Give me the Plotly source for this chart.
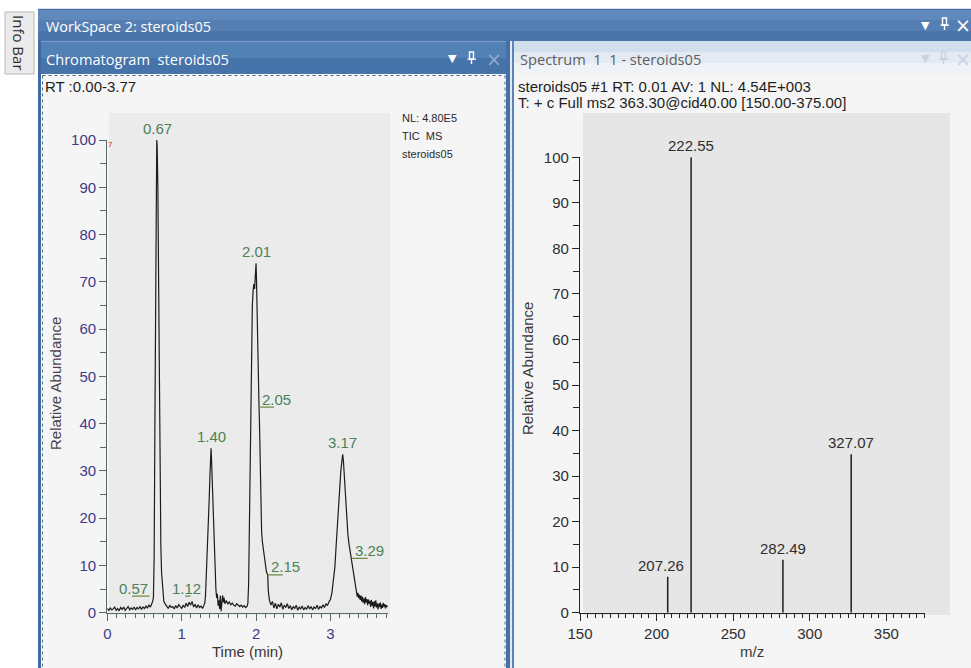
import plotly.graph_objects as go

W, H = 971, 668

# ---------------- data: chromatogram (TIC, relative abundance vs time) ----------------
rt_min = [
    0.00, 0.02, 0.04, 0.06, 0.08, 0.10, 0.12, 0.14, 0.16, 0.18, 0.20, 0.22, 0.24, 0.26, 0.28, 0.30,
    0.32, 0.34, 0.36, 0.38, 0.40, 0.42, 0.44, 0.46, 0.48, 0.50, 0.52, 0.54, 0.56, 0.58, 0.60, 0.61,
    0.62, 0.63, 0.64, 0.65, 0.66, 0.665, 0.67, 0.68, 0.69, 0.70, 0.705, 0.71, 0.72, 0.73, 0.74, 0.75, 0.76, 0.78,
    0.80, 0.82, 0.84, 0.86, 0.88, 0.90, 0.92, 0.94, 0.96, 0.98, 1.00, 1.02, 1.04, 1.06, 1.08, 1.10,
    1.12, 1.14, 1.16, 1.18, 1.20, 1.22, 1.24, 1.26, 1.28, 1.30,
    1.31, 1.32, 1.33, 1.34, 1.35, 1.36, 1.37, 1.38, 1.39, 1.395, 1.40, 1.41, 1.42, 1.43, 1.44, 1.45, 1.46, 1.47,
    1.48, 1.49, 1.50, 1.51, 1.52, 1.53, 1.54, 1.55, 1.56, 1.57, 1.58, 1.60, 1.62, 1.64, 1.66, 1.68,
    1.70, 1.72, 1.74, 1.76, 1.78, 1.80, 1.82, 1.84, 1.86, 1.88, 1.89,
    1.90, 1.91, 1.92, 1.93, 1.94, 1.95, 1.96, 1.97, 1.98, 1.99, 2.00, 2.005, 2.01, 2.02, 2.03, 2.04,
    2.045, 2.05, 2.055, 2.065, 2.075, 2.085, 2.10, 2.12, 2.14, 2.157, 2.165, 2.18,
    2.20, 2.22, 2.24, 2.26, 2.28, 2.30, 2.32, 2.34, 2.36, 2.38, 2.40, 2.42, 2.44, 2.46, 2.48, 2.50,
    2.52, 2.54, 2.56, 2.58, 2.60, 2.62, 2.64, 2.66, 2.68, 2.70, 2.72, 2.74, 2.76, 2.78, 2.80, 2.82,
    2.84, 2.86, 2.88, 2.90, 2.92, 2.94, 2.96, 2.98,
    3.00, 3.02, 3.04, 3.06, 3.08, 3.10, 3.11, 3.12, 3.13, 3.14, 3.15, 3.165, 3.175, 3.19, 3.20, 3.21,
    3.22, 3.235, 3.25, 3.27, 3.286, 3.30, 3.32, 3.34, 3.35,
    3.36, 3.37, 3.38, 3.39, 3.40, 3.41, 3.42, 3.43, 3.44, 3.45, 3.46, 3.47, 3.48, 3.49, 3.50, 3.51,
    3.52, 3.53, 3.54, 3.55, 3.56, 3.57, 3.58, 3.59, 3.60, 3.61, 3.62, 3.63, 3.64, 3.65, 3.66, 3.67,
    3.68, 3.69, 3.70, 3.71, 3.72, 3.73, 3.74, 3.75, 3.76, 3.77,
]
rel_abund = [
    0.9, 0.5, 1.0, 0.6, 0.8, 1.2, 0.5, 0.9, 0.4, 1.1, 0.7, 1.2, 0.5, 0.9, 1.3, 0.6,
    1.0, 0.7, 1.2, 0.6, 1.1, 0.8, 1.3, 0.7, 1.2, 0.9, 1.4, 1.0, 1.6, 1.2, 1.9, 2.4,
    3.2, 12, 40, 75, 95, 100, 99, 90, 70, 50, 38, 25, 14, 8.4, 5.5, 3.4, 2.4, 1.8,
    1.4, 0.9, 1.6, 1.1, 1.3, 0.8, 1.5, 1.0, 1.7, 1.2, 0.9, 1.6, 1.1, 2.0, 1.3, 2.2,
    1.6, 2.4, 1.2, 1.8, 1.0, 1.7, 1.1, 1.4, 0.9, 1.6,
    2.0, 3.5, 7, 11, 15, 19, 24, 29, 34, 34.8, 33, 28, 23, 17, 12, 7.5, 5.0, 3.1,
    4.0, 1.5, 2.6, 0.8, 3.6, 0.3, 2.9, 3.7, 2.2, 3.2, 1.9, 2.6, 1.8, 2.3, 1.7, 2.0,
    1.6, 1.4, 1.9, 1.5, 1.3, 1.6, 1.2, 1.5, 1.1, 1.4, 2.0,
    6, 18, 38, 52, 60, 65, 68, 69.5, 68.5, 70.5, 73.9, 71, 66, 56, 47, 43.5,
    41, 36, 30.5, 28, 17, 15, 13, 10.5, 8.6, 8.0, 4.5, 2.6,
    1.6, 2.4, 1.0, 2.0, 0.8, 1.8, 1.2, 2.1, 0.7, 1.6, 1.1, 1.9, 0.9, 1.5, 0.6, 1.3,
    0.9, 1.6, 0.5, 1.2, 0.8, 1.4, 0.6, 1.1, 0.7, 1.5, 0.8, 1.3, 0.6, 1.2, 0.9, 1.6,
    0.7, 1.3, 1.0, 1.7, 1.1, 1.9, 1.5, 2.3,
    2.8, 4.2, 6.5, 9.7, 15, 20.5, 23.5, 26.5, 28.8, 30, 31.5, 33.5, 32, 28, 25, 22,
    19, 16.5, 14.5, 12.5, 11.5, 9.5, 7.5, 5.5, 4.8,
    3.4, 4.2, 3.1, 3.8, 2.7, 3.6, 2.4, 3.4, 2.1, 3.0, 1.8, 3.3, 2.2, 2.9, 1.6, 2.8,
    1.9, 2.5, 1.2, 2.7, 1.5, 2.3, 0.9, 2.4, 1.3, 2.6, 1.1, 2.0, 0.7, 1.9, 1.2, 2.2,
    0.8, 1.7, 1.0, 2.1, 1.3, 1.8, 0.9, 1.6, 1.2, 1.5,
]
assert len(rt_min) == len(rel_abund)

# chromatogram peak labels: text, anchor time, anchor abundance
chrom_label_text = ["0.67", "1.40", "2.01", "3.17", "2.05", "2.15", "3.29", "0.57", "1.12"]
chrom_label_rt = [0.67, 1.395, 2.005, 3.165, 2.04, 2.157, 3.286, 0.567, 1.12]
chrom_label_abund = [100, 34.8, 73.9, 33.5, 43.5, 8.0, 11.5, 3.5, 3.5]

# ---------------- data: MS2 spectrum ----------------
mz = [207.26, 222.55, 282.49, 327.07]
mz_abund = [7.9, 100, 11.6, 34.8]
mz_label = ["207.26", "222.55", "282.49", "327.07"]

# tick values
chrom_x_ticks = [0, 1, 2, 3]
abund_ticks = [0, 10, 20, 30, 40, 50, 60, 70, 80, 90, 100]
spec_x_ticks = [150, 200, 250, 300, 350]

# ---------------- styles ----------------
UI_FONT = "Open Sans, Noto Sans, sans-serif"
TXT_FONT = "Liberation Sans, Arial, sans-serif"
CHROM_AXIS = "#566a6c"
CHROM_TICKTXT = "#3e3a88"
SPEC_AXIS = "#262626"
LABEL_GREEN = "#4c8256"


def X(px):
    return px / W


def Y(py):
    return 1 - py / H


shapes = []
annotations = []


def rect(x0, y0, x1, y1, fill, line_color=None, line_width=0, dash=None):
    ln = dict(width=line_width, color=line_color or fill)
    if dash:
        ln["dash"] = dash
    shapes.append(dict(type="rect", xref="paper", yref="paper", layer="below",
                       x0=X(x0), x1=X(x1), y0=Y(y1), y1=Y(y0),
                       fillcolor=fill, line=ln))


def pline(x0, y0, x1, y1, color, width=1.0, dash=None):
    ln = dict(color=color, width=width)
    if dash:
        ln["dash"] = dash
    shapes.append(dict(type="line", xref="paper", yref="paper", layer="above",
                       x0=X(x0), x1=X(x1), y0=Y(y0), y1=Y(y1), line=ln))


def ptext(x, y, text, size, color, family=UI_FONT, xanchor="left", angle=0):
    annotations.append(dict(xref="paper", yref="paper", x=X(x), y=Y(y), text=text,
                            showarrow=False, xanchor=xanchor, yanchor="middle",
                            textangle=angle, font=dict(family=family, size=size, color=color)))


def pin(cx, cy, color):
    # small push-pin glyph
    shapes.append(dict(type="rect", xref="paper", yref="paper", layer="above",
                       x0=X(cx - 2.5), x1=X(cx + 1.5), y0=Y(cy + 2), y1=Y(cy - 5),
                       fillcolor="rgba(0,0,0,0)", line=dict(color=color, width=1.4)))
    pline(cx - 4.5, cy + 2.2, cx + 4, cy + 2.2, color, 1.4)
    pline(cx - 0.5, cy + 2.2, cx - 0.5, cy + 7, color, 1.4)


# ---------------- window chrome ----------------
# Info Bar tab
rect(5, 12, 34, 74, "#ebebeb", "#b9b9b9", 1)
ptext(19, 43, "Info Bar", 15, "#2b2b2b", xanchor="center", angle=90)

# workspace title bar (banded gradient)
rect(38, 9, 971, 20, "#5f89bc")
rect(38, 20, 971, 31, "#557fb3")
rect(38, 31, 971, 41, "#4a75aa")
pline(38, 9.3, 971, 9.3, "#3f6aa0", 1)
ptext(44, 26, "WorkSpace 2: steroids05", 14.4, "#ffffff")
ptext(925, 25, "▼", 11, "#ffffff", family="DejaVu Sans", xanchor="center")
pin(945, 23, "#ffffff")
ptext(963, 25, "×", 19, "#ffffff", family="DejaVu Sans", xanchor="center")

# frame strips
rect(38, 41, 41, 668, "#3f6aa1")
rect(506, 41, 510, 668, "#4471a8")
rect(510, 41, 512, 668, "#e4e9f0")
rect(512, 41, 514, 668, "#5b83b6")

# chromatogram panel
rect(41, 41, 506, 58, "#5281b6")
rect(41, 58, 506, 74, "#4673a9")
pline(41, 41.5, 506, 41.5, "#7a9cc6", 1)
ptext(44, 59, "Chromatogram  steroids05", 14.6, "#ffffff")
ptext(452, 59, "▼", 11, "#ffffff", family="DejaVu Sans", xanchor="center")
pin(472, 57, "#ffffff")
ptext(494, 59, "×", 19, "#93aacb", family="DejaVu Sans", xanchor="center")
rect(41, 74, 506, 668, "#f5f5f5")
pline(42.5, 75.5, 505, 75.5, "#4d6b8f", 1, dash="dot")
pline(42.5, 75.5, 42.5, 668, "#4d6b8f", 1, dash="dot")
pline(505, 75.5, 505, 668, "#4d6b8f", 1, dash="dot")
rect(109, 113, 390, 615, "#ebebec")

# spectrum panel
rect(514, 41, 971, 52, "#d3deec")
rect(514, 52, 971, 63, "#e3eaf3")
rect(514, 63, 971, 74, "#eff3f8")
ptext(518, 59, "Spectrum  1  1 - steroids05", 14.6, "#5d5d5d")
ptext(925, 59, "▼", 11, "#c6d2e2", family="DejaVu Sans", xanchor="center")
pin(944, 57, "#c6d2e2")
ptext(963, 59, "×", 19, "#c6d2e2", family="DejaVu Sans", xanchor="center")
rect(514, 74, 971, 668, "#f5f5f5")
rect(583, 113, 950, 615, "#e6e6e7")

# ---------------- header texts ----------------
ptext(43, 86.5, "RT :0.00-3.77", 15, "#1e1e1e", family=TXT_FONT)
ptext(400, 117.5, "NL: 4.80E5", 11, "#2a2a2a", family=TXT_FONT)
ptext(400, 136, "TIC  MS", 11, "#2a2a2a", family=TXT_FONT)
ptext(400, 154.5, "steroids05", 11, "#2a2a2a", family=TXT_FONT)
ptext(110.5, 144, "7", 8, "#e02020", family=TXT_FONT, xanchor="center")

ptext(516, 86.5, "steroids05 #1 RT: 0.01 AV: 1 NL: 4.54E+003", 15, "#1e1e1e", family=TXT_FONT)
ptext(516, 102, "T: + c Full ms2 363.30@cid40.00 [150.00-375.00]", 15, "#1e1e1e", family=TXT_FONT)

# axis titles
ptext(55, 384, "Relative Abundance", 15, "#4a3f4f", family=TXT_FONT, xanchor="center", angle=-90)
ptext(247, 651, "Time (min)", 15, "#3a3535", family=TXT_FONT, xanchor="center")
ptext(527, 369, "Relative Abundance", 15, "#3a3a3a", family=TXT_FONT, xanchor="center", angle=-90)
ptext(752, 651, "m/z", 15, "#3a3a3a", family=TXT_FONT, xanchor="center")

# ---------------- traces ----------------
fig = go.Figure()
fig.add_trace(go.Scatter(x=rt_min, y=rel_abund, mode="lines",
                         line=dict(color="#1c1c1c", width=1.2),
                         xaxis="x", yaxis="y", hoverinfo="skip", showlegend=False))

stick_x, stick_y = [], []
for m, a in zip(mz, mz_abund):
    stick_x += [m, m, None]
    stick_y += [0, a, None]
fig.add_trace(go.Scatter(x=stick_x, y=stick_y, mode="lines",
                         line=dict(color="#1e1e1e", width=1.5),
                         xaxis="x2", yaxis="y2", hoverinfo="skip", showlegend=False))

# chromatogram peak labels (placement style per label kind)
label_style = {
    "0.67": dict(kind="top"), "1.40": dict(kind="top"), "2.01": dict(kind="top"), "3.17": dict(kind="top"),
    "2.05": dict(kind="right", dx=1.2, ul=(0, 15)),
    "2.15": dict(kind="right", dx=0.8, ul=(0, 15)),
    "3.29": dict(kind="right", dx=1.5, ul=(0, 16)),
    "0.57": dict(kind="left", dx=-15.5, ul=(-17.5, 0)),
    "1.12": dict(kind="left", dx=-4.6, ul=(-5.5, 0)),
}
for txt, t, a in zip(chrom_label_text, chrom_label_rt, chrom_label_abund):
    st = label_style[txt]
    if st["kind"] == "top":
        annotations.append(dict(xref="x", yref="y", x=t, y=a, text=txt, showarrow=False,
                                xanchor="center", yanchor="middle", yshift=11.5,
                                font=dict(family=TXT_FONT, size=15, color=LABEL_GREEN)))
    else:
        xa = "left" if st["kind"] == "right" else "center"
        annotations.append(dict(xref="x", yref="y", x=t, y=a, text=txt, showarrow=False,
                                xanchor=xa, yanchor="middle", xshift=st["dx"], yshift=8,
                                font=dict(family=TXT_FONT, size=15, color=LABEL_GREEN)))
        shapes.append(dict(type="line", xref="x", yref="y", xsizemode="pixel", ysizemode="pixel",
                           xanchor=t, yanchor=a, x0=st["ul"][0], x1=st["ul"][1], y0=0, y1=0,
                           line=dict(color="#6f8a45", width=1.3), layer="above"))

# spectrum peak labels
spec_dx = {"207.26": -6.5}
for txt, m, a in zip(mz_label, mz, mz_abund):
    annotations.append(dict(xref="x2", yref="y2", x=m, y=a, text=txt, showarrow=False,
                            xanchor="center", yanchor="middle", yshift=11.5,
                            xshift=spec_dx.get(txt, 0),
                            font=dict(family=TXT_FONT, size=15, color="#2e2e2e")))


def axis(color, tick_color, tickvals, minor_dtick, domain, rng, anchor, minor_len):
    return dict(domain=domain, range=rng, anchor=anchor, showline=True, linecolor=color, linewidth=1.3,
                ticks="outside", tickcolor=color, tickwidth=1.3, ticklen=7, automargin=False,
                tickmode="array", tickvals=tickvals, ticktext=[str(v) for v in tickvals],
                minor=dict(dtick=minor_dtick, tick0=0, ticks="outside", ticklen=minor_len,
                           tickcolor=color, tickwidth=1.1, showgrid=False),
                showgrid=False, zeroline=False, fixedrange=True,
                tickfont=dict(family=TXT_FONT, size=15, color=tick_color))


fig.update_layout(
    width=W, height=H, autosize=False,
    margin=dict(l=0, r=0, t=0, b=0, pad=0, autoexpand=False),
    paper_bgcolor="#ffffff", plot_bgcolor="rgba(0,0,0,0)",
    showlegend=False,
    xaxis=axis(CHROM_AXIS, CHROM_TICKTXT, chrom_x_ticks, 0.125,
               [X(107.3), X(387.7)], [0, 3.77], "y", 4),
    yaxis=axis(CHROM_AXIS, CHROM_TICKTXT, abund_ticks, 5,
               [Y(612.7), Y(140)], [0, 100], "x", 6),
    xaxis2=axis(SPEC_AXIS, "#2e2e2e", spec_x_ticks, 5,
                [X(580), X(924.6)], [150, 375], "y2", 4),
    yaxis2=axis(SPEC_AXIS, "#2e2e2e", abund_ticks, 5,
                [Y(612.7), Y(157.3)], [0, 100], "x2", 6),
    shapes=shapes, annotations=annotations,
)

fig.write_html("out.html", include_plotlyjs=True,
               config={"displayModeBar": False, "responsive": False},
               post_script="document.body.style.margin='0';document.body.style.padding='0';"
                           "document.documentElement.style.overflow='hidden';"
                           "document.body.style.overflow='hidden';")
